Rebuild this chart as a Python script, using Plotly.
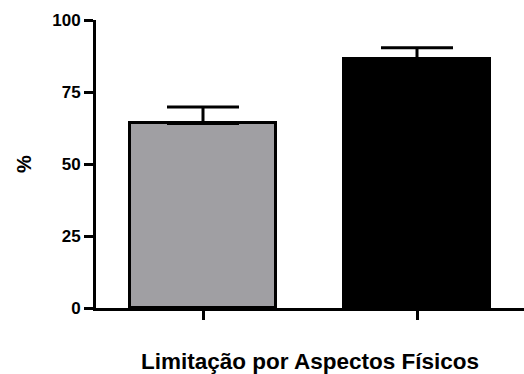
import plotly.graph_objects as go

categories = ["A", "B"]
values = [64.1, 86.4]
err_up = [5.7, 4.0]
colors = ["#a09fa3", "#000000"]
x_title = "Limitação por Aspectos Físicos"
y_title = "%"
y_ticks = [0, 25, 50, 75, 100]

fig = go.Figure()
fig.add_trace(go.Bar(
    x=categories, y=values, width=0.68,
    marker=dict(color=colors, line=dict(color="#000000", width=3)),
    error_y=dict(type="data", symmetric=False, array=err_up,
                 arrayminus=[0, 0], color="#000000", thickness=3, width=36),
))

font = "Liberation Sans"
fig.update_layout(
    width=524, height=374,
    margin=dict(l=96, r=0, t=20, b=66),
    plot_bgcolor="white", paper_bgcolor="white",
    showlegend=False,
    font=dict(family=font, color="#000000"),
    bargap=0,
)
fig.update_xaxes(
    range=[-0.5, 1.5], showticklabels=False, automargin=False,
    showline=True, linecolor="#000000", linewidth=3,
    ticks="outside", ticklen=9, tickwidth=3, tickcolor="#000000",
    showgrid=False, zeroline=False,
    title=dict(text="<b>" + x_title + "</b>", font=dict(size=22.5, family=font), standoff=35),
)
fig.update_yaxes(
    range=[0, 100], tickvals=y_ticks, ticktext=["<b>%d</b>" % v for v in y_ticks],
    tickfont=dict(size=17, family=font), automargin=False,
    showline=True, linecolor="#000000", linewidth=3,
    ticks="outside", ticklen=9, tickwidth=3, tickcolor="#000000",
    showgrid=False, zeroline=False,
    title=dict(text="<b>" + y_title + "</b>", font=dict(size=20, family=font), standoff=16),
)
fig.write_html("out.html", config={"displayModeBar": False},
               post_script="document.body.style.margin='0';document.body.style.overflow='hidden';")
